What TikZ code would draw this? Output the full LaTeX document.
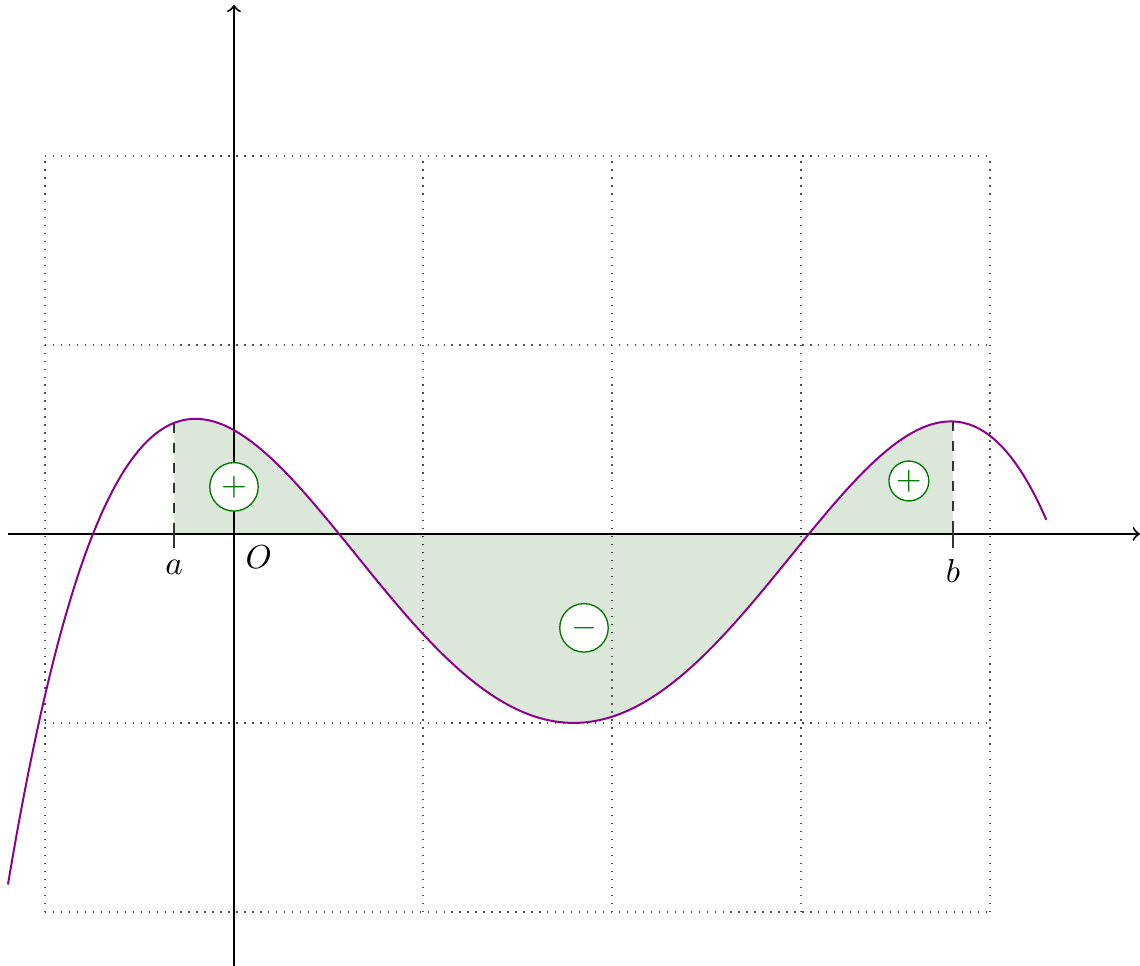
\documentclass[tikz,border=0pt]{standalone}
\usepackage{amsmath}
\usepackage{xcolor}
\usepackage{tikz}
\usetikzlibrary{positioning}

\definecolor{areagreen}{RGB}{218,231,217}
\definecolor{signgreen}{RGB}{0,120,0}
\definecolor{curvepurple}{RGB}{140,0,140}

\tikzset{
  declare function={f(\x)=-0.1005*(\x+0.746)*(\x-0.556)*(\x-3.042)*(\x-4.33);},
  sign/.style={circle, draw=signgreen, fill=white, text=signgreen, inner sep=0pt, minimum size=14.6pt},
  bound/.style={dashed, gray!40!black, semithick},
}

\begin{document}
\begin{tikzpicture}[x=2cm, y=2cm]
\useasboundingbox (-1.238,-2.286) rectangle (4.794,2.825);

\begin{scope}
\clip (-0.317,-1.2) rectangle (3.804,0.8);
\fill[areagreen] plot[domain=-1.196:4.3, samples=120, smooth] (\x,{f(\x)}) -- (4.3,0) -- (-1.196,0) -- cycle;
\end{scope}

\draw[dotted, gray!60!black, step=2cm] (-1,-2) grid (4,2);

\draw[semithick, ->] (-1.196,0) -- (4.794,0) ;
\draw[semithick, ->] (0,-2.286) -- (0,2.80) ;

\coordinate (fa) at (-0.317,{f(-0.317)});
\coordinate (fb) at (3.804,{f(3.804)});
\coordinate (ta) at (-0.317,-0.075);
\coordinate (tb) at (3.804,-0.075);
\draw[bound] (fa) -- (ta);
\draw[bound] (fb) -- (tb);
\draw[gray!40!black, semithick] (-0.317,0.04) -- (ta);
\draw[gray!40!black, semithick] (3.804,0.04) -- (tb);

\node[below=0pt of ta] (la) {$a$};
\node[below=0pt of tb] (lb) {$b$};
\node[below right=0pt and 0pt of {(0,0)}] (lo) {$O$};

\draw[curvepurple, semithick] plot[domain=-1.196:4.3, samples=120, smooth] (\x,{f(\x)});

\node[sign] (plus1) at (0,0.249) {$+$};
\node[sign, minimum size=12pt] (plus2) at (3.571,0.28) {$+$};
\node[sign] (minus) at (1.852,-0.497) {$-$};
\end{tikzpicture}
\end{document}
